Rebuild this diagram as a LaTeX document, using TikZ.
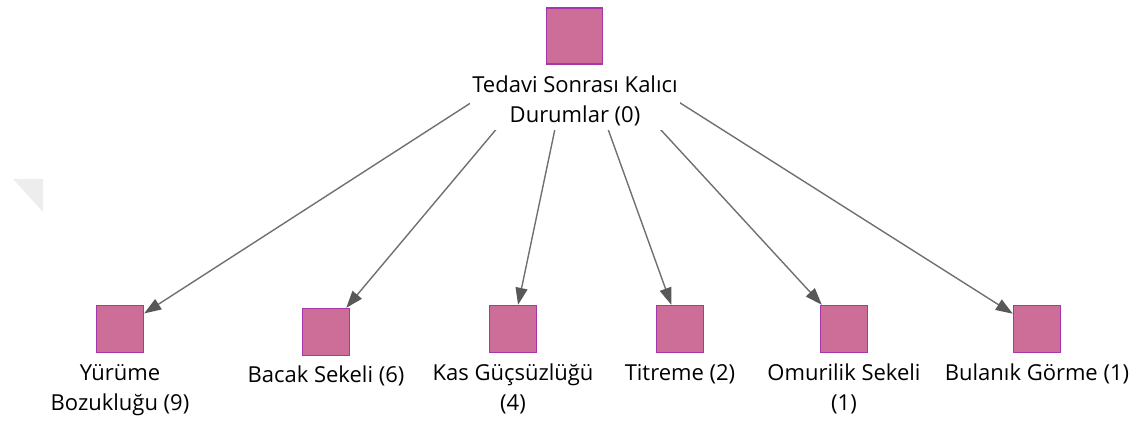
\documentclass[tikz,border=0pt]{standalone}
\usepackage{fontspec}
\setmainfont{Open Sans}
\usetikzlibrary{arrows.meta,backgrounds}
\definecolor{boxfill}{RGB}{204,110,152}
\definecolor{boxline}{RGB}{166,52,170}
\definecolor{edgegray}{RGB}{112,112,112}
\definecolor{tipgray}{RGB}{88,88,88}
\begin{document}
\begin{tikzpicture}[x=1pt,y=-1pt,
  catbox/.style={draw=boxline,fill=boxfill,line width=1.4pt,minimum size=47pt,inner sep=0pt},
  rootbox/.style={catbox,minimum size=56pt},
  catlabel/.style={font=\fontsize{22}{30}\selectfont,align=center,inner sep=0pt,text=black},
  link/.style={draw=edgegray,line width=1.4pt,-{Triangle[length=17pt,width=12pt,fill=tipgray,color=tipgray]}},
  cover/.style={fill=white,draw=none,inner sep=0pt}]
\useasboundingbox (0,0) rectangle (1140,421);
% faint corner mark at the left edge
\fill[black!7] (13,179) -- (43,179) -- (43,212) -- cycle;
% root: white panel that hides edge starts, then box and caption
\node[cover,minimum width=210pt,minimum height=123pt,anchor=north west] (rootarea) at (470,7) {};
\node[rootbox] (root) at (574.5,36) {};
\node[catlabel,anchor=base] (rootlbl) at (575,122) {Tedavi Sonrası Kalıcı\\Durumlar (0)};
% leaves
\node[catbox] (c1) at (120,329) {};
\node[catbox] (c2) at (326,332) {};
\node[catbox] (c3) at (513,329) {};
\node[catbox] (c4) at (680,329) {};
\node[catbox] (c5) at (844,329) {};
\node[catbox] (c6) at (1037,329) {};
\node[catlabel,anchor=base] (l1) at (120,410) {Yürüme\\Bozukluğu (9)};
\node[catlabel,anchor=base] (l2) at (326,382) {Bacak Sekeli (6)};
\node[catlabel,anchor=base] (l3) at (513,410) {Kas Güçsüzlüğü\\(4)};
\node[catlabel,anchor=base] (l4) at (680,380) {Titreme (2)};
\node[catlabel,anchor=base] (l5) at (844,410) {Omurilik Sekeli\\(1)};
\node[catlabel,anchor=base] (l6) at (1037,380) {Bulanık Görme (1)};
% edges drawn behind the root panel
\begin{scope}[on background layer]
\foreach \t in {c1,c2,c3,c4,c5,c6}
  \draw[link] (root.center) -- (\t);
\end{scope}
\end{tikzpicture}
\end{document}
